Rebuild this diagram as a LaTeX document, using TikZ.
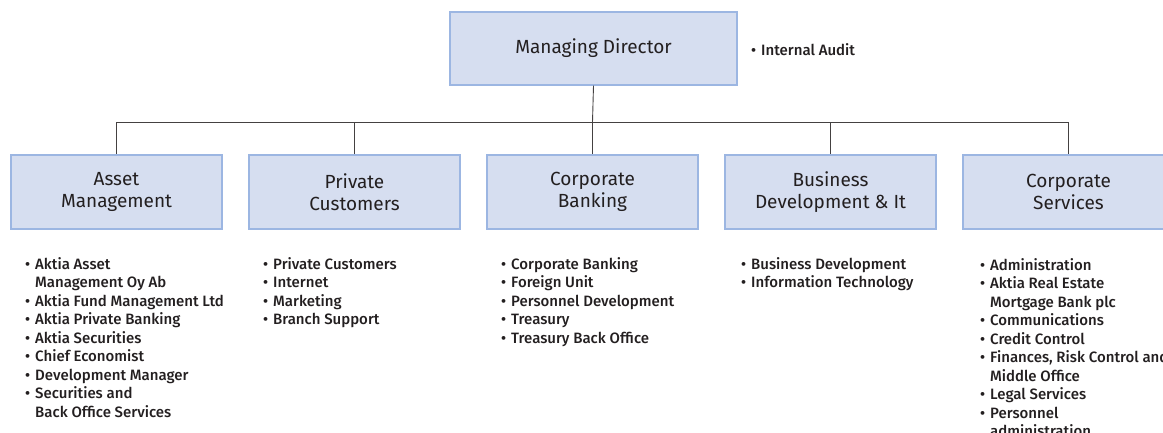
\documentclass[tikz,border=0pt]{standalone}
\usepackage{fontspec}
\setmainfont{Fira Sans}
\newfontfamily\listfont{Fira Sans}[UprightFont={* Medium}]
\usetikzlibrary{positioning}

\definecolor{unitfill}{HTML}{D6DEF0}
\definecolor{unitline}{HTML}{9CB6E2}
\definecolor{ink}{HTML}{231F20}

\tikzset{
  unit/.style={draw=unitline, fill=unitfill, line width=1.2pt, text=ink,
    minimum width=211pt, minimum height=74pt, align=center, inner sep=0pt,
    font=\fontsize{19}{22}\selectfont},
  head/.style={unit, minimum width=287pt, minimum height=73pt},
  duties/.style={anchor=north west, align=left, inner sep=0pt, text=ink,
    font=\listfont\fontsize{15}{18.5}\selectfont},
  link/.style={draw=ink!85, line width=0.9pt},
}

% bullet and hanging indent for the duty lists
\newcommand{\itm}{\makebox[10pt][l]{\textbullet}}
\newcommand{\cont}{\hspace*{10pt}}

\begin{document}
\begin{tikzpicture}[x=1pt,y=-1pt]
\useasboundingbox (0,0) rectangle (1163,432);
\clip (0,0) rectangle (1163,432);

% top of the chart
\node[head] (md) at (593.5,48.5) {Managing Director};
\node[duties, anchor=west] (audit) at (751,50) {\itm Internal Audit};

% the five divisions
\node[unit] (asset) at (116.5,192) {Asset\\Management};
\node[unit] (priv)  at (354.5,192) {Private\\Customers};
\node[unit] (corp)  at (592.5,192) {Corporate\\Banking};
\node[unit] (busdev) at (830.5,192) {Business\\Development \& It};
\node[unit] (serv)  at (1068.5,192) {Corporate\\Services};

% connectors
\coordinate (bar) at (592.5,122);
\draw[link] (md.south) -- (bar);
\foreach \u in {asset,priv,corp,busdev,serv}
  \draw[link] (bar) -| (\u.north);

% duty lists under each division
\node[duties] (assetlist) at (25,257) {%
  \itm Aktia Asset\\
  \cont Management Oy Ab\\
  \itm Aktia Fund Management Ltd\\
  \itm Aktia Private Banking\\
  \itm Aktia Securities\\
  \itm Chief Economist\\
  \itm Development Manager\\
  \itm Securities and\\
  \cont Back Office Services};

\node[duties] (privlist) at (263,257) {%
  \itm Private Customers\\
  \itm Internet\\
  \itm Marketing\\
  \itm Branch Support};

\node[duties] (corplist) at (501,257) {%
  \itm Corporate Banking\\
  \itm Foreign Unit\\
  \itm Personnel Development\\
  \itm Treasury\\
  \itm Treasury Back Office};

\node[duties] (buslist) at (741,257) {%
  \itm Business Development\\
  \itm Information Technology};

\node[duties] (servlist) at (980,258) {%
  \itm Administration\\
  \itm Aktia Real Estate\\
  \cont Mortgage Bank plc\\
  \itm Communications\\
  \itm Credit Control\\
  \itm Finances, Risk Control and\\
  \cont Middle Office\\
  \itm Legal Services\\
  \itm Personnel\\
  \cont administration};
\end{tikzpicture}
\end{document}
